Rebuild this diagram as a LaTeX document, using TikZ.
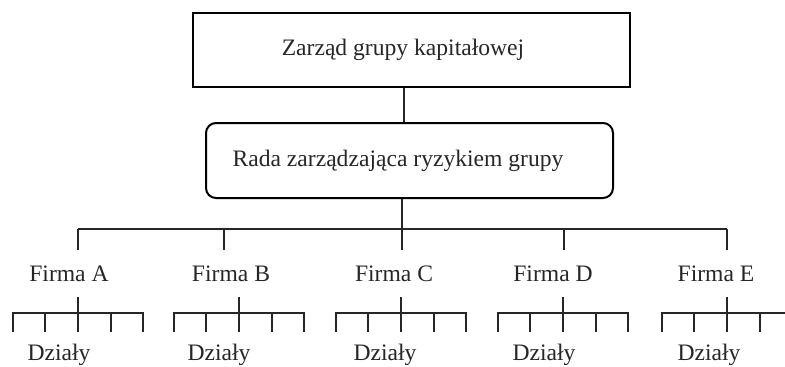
\documentclass[tikz,border=0pt]{standalone}
\usepackage{fontspec}
\setmainfont{Liberation Serif}
\begin{document}
\begin{tikzpicture}[x=0.5pt,y=-0.5pt,
  line width=0.9pt,
  every node/.style={font=\fontsize{11.8}{14}\selectfont, text=black!85},
  frame/.style={draw, line width=1pt, rectangle, inner sep=0pt},
  roundframe/.style={draw, line width=1pt, rectangle, rounded corners=5pt, inner sep=0pt},
  label/.style={inner sep=1pt},
  link/.style={draw=black!85}]
\useasboundingbox (0,0) rectangle (785,366);
\clip (0,0) rectangle (785,366);

% management board of the group
\node[frame, minimum width=218.5pt, minimum height=37pt] (zarzad) at (411.5,50) {};
\node[label] (zarzadtxt) at (403,50) {Zarząd grupy kapitałowej};

% risk management council
\node[roundframe, minimum width=203.5pt, minimum height=37.5pt] (rada) at (409.5,160.5) {};
\node[label] (radatxt) at (398,160.5) {Rada zarządzająca ryzykiem grupy};

\draw[link] (zarzad.south -| 404,0) -- (rada.north -| 404,0);

% bus to the companies
\coordinate (busL) at (78,229);
\coordinate (busR) at (727,229);
\draw[link] (rada.south -| 402,0) -- (402,229);
\draw[link] (busL) -- (busR);

\foreach \n/\dx/\tx/\sx/\lx in {A/78/69/78/59, B/224/231/239/219, C/402/394/401/385, D/564/553/563/544, E/727/716/727/709}{
  \node[label] (firma\n) at (\tx,274) {Firma \n};
  \coordinate (drop\n) at (\dx,229);
  \draw[link] (drop\n) -- (\dx,250);
  % departments under each company
  \coordinate (sub\n) at (\sx,297);
  \draw[link] (sub\n) -- (\sx,332);
  \draw[link] (\sx-65,332) -- (\sx-65,313) -- (\sx+65,313) -- (\sx+65,332);
  \draw[link] (\sx-33,313) -- (\sx-33,332);
  \draw[link] (\sx+33,313) -- (\sx+33,332);
  \node[label] (dzialy\n) at (\lx,355) {Działy};
}
\end{tikzpicture}
\end{document}
